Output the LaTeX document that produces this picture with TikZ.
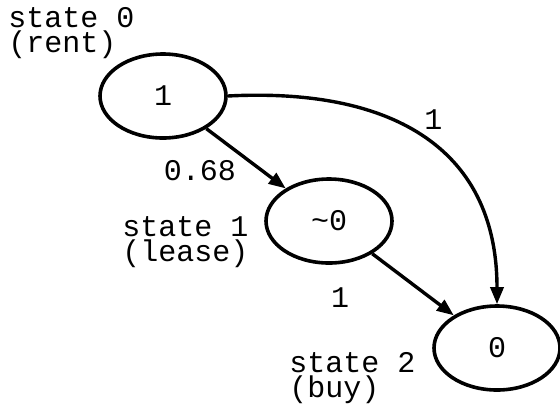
\documentclass[tikz,border=0pt]{standalone}
\usepackage{fontspec}
\setmainfont{Liberation Mono}
\usetikzlibrary{shapes.geometric,arrows.meta,positioning}

\tikzset{
  state/.style={ellipse, draw, line width=1.8pt, minimum width=63pt,
    minimum height=42pt, inner sep=0pt},
  trans/.style={line width=1.7pt, -{Triangle[length=8.5pt,width=6.5pt]}},
  prob/.style={inner sep=0pt},
  caption/.style={align=left, anchor=north west, inner sep=0pt},
}

\begin{document}
\begin{tikzpicture}[x=0.5pt, y=-0.5pt, font=\fontsize{15pt}{12.5pt}\selectfont]
  \useasboundingbox (0,0) rectangle (560,408);

  % States
  \node[state] (rent)  at (163,96)  {1};
  \node[state] (lease) at (329,221) {\textasciitilde0};
  \node[state] (buy)   at (497,348) {0};

  % State names
  \node[caption] (rentname)  at (8,7)     {state 0\\(rent)};
  \node[caption] (leasename) at (122,216) {state 1\\(lease)};
  \node[caption] (buyname)   at (289,352) {state 2\\(buy)};

  % Transitions
  \draw[trans] (rent) -- (lease)
    node[prob, midway, xshift=-23pt, yshift=-6.25pt] {0.68};
  \draw[trans] (lease) -- (buy)
    node[prob, midway, xshift=-36.5pt, yshift=-6.5pt] {1};
  \draw[trans] (rent.east) to[out=3, in=90, looseness=1.2]
    node[prob, pos=0.4, xshift=21pt] {1} (buy.north);
\end{tikzpicture}
\end{document}
